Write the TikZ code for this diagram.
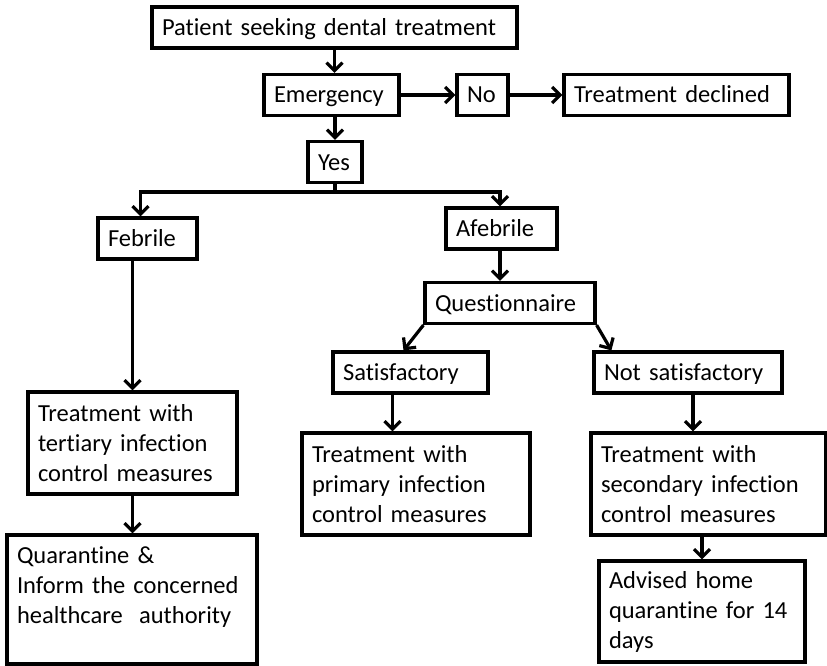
\documentclass[tikz,border=0pt]{standalone}
\usepackage{fontspec}
\setmainfont{Carlito}[Ligatures=NoCommon]
\usetikzlibrary{arrows.meta}

\begin{document}
\begin{tikzpicture}[x=1pt,y=-1pt]
\useasboundingbox (0,0) rectangle (827,666);

\begin{scope}[every node/.style={draw,line width=3.2pt,inner xsep=10pt,inner ysep=2pt,
        align=left,font=\fontsize{24.5}{30}\selectfont,minimum height=41pt},
        onebox/.style={text height=20pt,text depth=4pt}]
    \node[onebox,text width=345pt] (patient) at (334.5,27.5) {Patient seeking dental treatment};
    \node[onebox,text width=115pt] (emerg) at (331.5,95) {Emergency};
    \node[onebox,text width=31pt] (no) at (482.5,95) {No};
    \node[onebox,text width=205pt] (declined) at (676.5,95) {Treatment declined};
    \node[onebox,text width=34pt] (yes) at (335,162) {Yes};
    \node[onebox,text width=79pt] (febrile) at (147.5,238.5) {Febrile};
    \node[onebox,text width=91pt] (afebrile) at (501.5,228.5) {Afebrile};
    \node[onebox,text width=150pt] (quest) at (510,303) {Questionnaire};
    \node[onebox,text width=135pt] (satis) at (410.5,372.5) {Satisfactory};
    \node[onebox,text width=168pt] (notsat) at (688,372.5) {Not satisfactory};
    \node[text width=189pt,minimum height=102pt] (tertiary) at (132.5,443)
        {Treatment with\\tertiary infection\\control measures};
    \node[text width=230pt,minimum height=129pt] (quarant) at (132,599.5)
        {Quarantine \&\\Inform the concerned\\healthcare\ \ authority\\[-10pt]\strut};
    \node[text width=208pt,minimum height=102pt] (primary) at (416,484)
        {Treatment with\\primary infection\\control measures};
    \node[text width=215pt,minimum height=102pt] (secondary) at (708.5,484)
        {Treatment with\\secondary infection\\control measures};
    \node[text width=186pt,minimum height=101pt] (advised) at (702,611.5)
        {Advised home\\quarantine for 14\\days};
\end{scope}

\coordinate (split) at (335,192);

\begin{scope}[line width=3.2pt,>={Straight Barb[length=8pt,width=16pt]},
              every edge/.style={draw,line width=3.2pt}]
    \path [->] (patient.south) edge (patient.south |- emerg.north);
    \path [->] (emerg) edge (no);
    \path [->] (no) edge (declined);
    \path [->] (yes.north |- emerg.south) edge (yes.north);
    \draw (yes.south) -- (split);
    \draw [->] (split) -| ([xshift=-7pt]febrile.north);
    \draw [->] (split) -| ([xshift=-1.5pt]afebrile.north);
    \path [->] (tertiary.north |- febrile.south) edge (tertiary.north);
    \path [->] ([xshift=-1.5pt]afebrile.south) edge ([xshift=-1.5pt]afebrile.south |- quest.north);
    \path [->] (quest.south west) edge ([xshift=-7pt]satis.north);
    \path [->] (quest.south east) edge ([xshift=19pt]notsat.north west);
    \path [->] ([xshift=-18pt]satis.south) edge ([xshift=-18pt]satis.south |- primary.north);
    \path [->] ([xshift=5pt]notsat.south) edge ([xshift=5pt]notsat.south |- secondary.north);
    \path [->] (tertiary.south) edge (tertiary.south |- quarant.north);
    \path [->] (advised.north |- secondary.south) edge (advised.north);
\end{scope}
\end{tikzpicture}
\end{document}
